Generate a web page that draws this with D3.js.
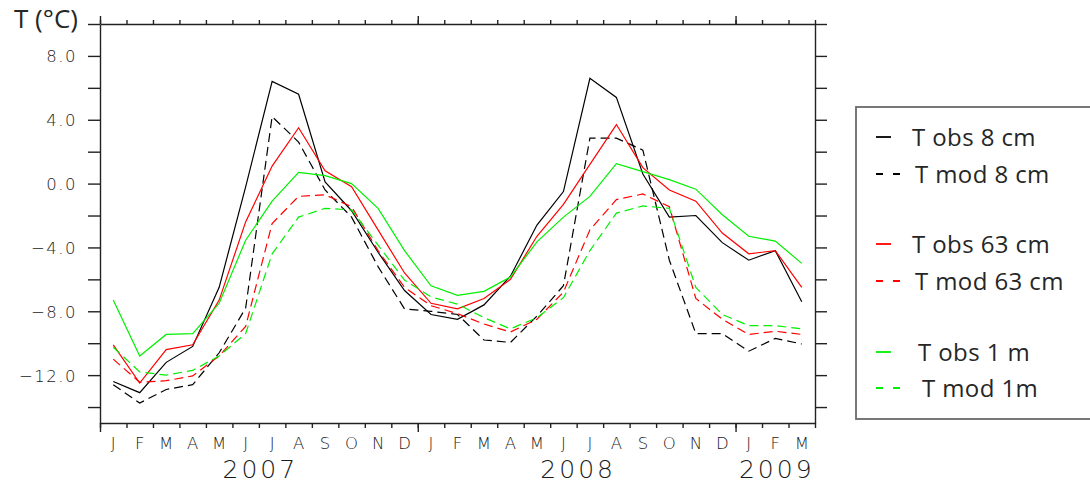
<!DOCTYPE html>
<html><head><meta charset="utf-8">
<script src="https://cdn.jsdelivr.net/npm/d3@7/dist/d3.min.js"></script>
<style>
html,body{margin:0;padding:0;background:#fff;}
svg{display:block;}
.gr text{font-family:"DejaVu Sans",sans-serif;font-weight:200;fill:#1a1a1a;}
</style></head>
<body>
<svg id="chart" width="1090" height="482"></svg>
<script>
// ---------- data ----------
const monthLabels = ["J","F","M","A","M","J","J","A","S","O","N","D",
                     "J","F","M","A","M","J","J","A","S","O","N","D",
                     "J","F","M"];
const yearLabels = ["2007","2008","2009"];
const yearStartMonth = [0,12,24];
const yearEndMonth = [12,24,27];
const yTicks = [-14,-12,-10,-8,-6,-4,-2,0,2,4,6,8,10];
const yLabelled = [-12,-8,-4,0,4,8];

const obs8  = [-12.4,-13.1,-11.2,-10.2,-6.5,-0.2,6.4,5.6,0.1,-1.7,-4.3,-6.7,-8.2,-8.5,-7.6,-5.8,-2.6,-0.5,6.6,5.4,0.6,-2.1,-2.0,-3.7,-4.8,-4.2,-7.4];
const mod8  = [-12.6,-13.75,-12.9,-12.6,-10.6,-7.8,4.2,2.6,-0.4,-2.1,-5.2,-7.85,-8.0,-8.2,-9.8,-9.95,-8.3,-6.4,2.85,2.85,2.1,-4.8,-9.4,-9.4,-10.5,-9.7,-10.05];
const obs63 = [-10.1,-12.5,-10.4,-10.1,-7.3,-2.4,1.1,3.5,0.8,-0.2,-2.9,-5.6,-7.5,-7.85,-7.2,-6.0,-3.3,-1.3,1.2,3.7,1.0,-0.4,-1.1,-3.1,-4.4,-4.2,-6.5];
const mod63 = [-11.0,-12.45,-12.35,-12.05,-10.8,-8.95,-2.5,-0.8,-0.7,-1.45,-4.2,-6.5,-7.65,-8.15,-8.8,-9.3,-8.5,-6.8,-2.9,-1.0,-0.65,-1.45,-7.2,-8.5,-9.45,-9.25,-9.45];
const obs1m = [-7.3,-10.8,-9.45,-9.4,-7.5,-3.55,-1.1,0.7,0.5,0.0,-1.55,-4.2,-6.4,-7.0,-6.75,-5.85,-3.65,-2.1,-0.8,1.25,0.75,0.25,-0.35,-1.95,-3.3,-3.6,-5.0];
const mod1m = [-10.25,-11.8,-12.0,-11.7,-10.8,-9.4,-4.4,-2.1,-1.55,-1.65,-3.85,-6.05,-7.1,-7.55,-8.4,-9.1,-8.4,-7.15,-4.2,-1.85,-1.4,-1.55,-6.5,-8.2,-8.9,-8.9,-9.1];

const seriesNames = ["T obs 8 cm","T mod 8 cm","T obs 63 cm","T mod 63 cm","T obs 1 m","T mod 1m"];
const seriesValues = [obs8, mod8, obs63, mod63, obs1m, mod1m];
const seriesColors = ["#000000","#000000","#ff0000","#ff0000","#00f000","#00f000"];
const seriesDashed = [false,true,false,true,false,true];

// ---------- layout ----------
const L = 100, R = 815, T = 24, B = 423;
const svg = d3.select("#chart");
const x = d3.scaleLinear().domain([0, monthLabels.length]).range([L, R]);
const y = d3.scaleLinear().domain([-15, 10]).range([B, T]);

const axisCol = "#222";
function styleAxis(g){
  g.selectAll("path.domain").attr("stroke", axisCol).attr("stroke-width", 1.4);
  g.selectAll(".tick line").attr("stroke", axisCol).attr("stroke-width", 1.4);
}

const monthBounds = d3.range(0, monthLabels.length + 1);
// Left axis
const gl = svg.append("g").attr("class","gr").attr("transform",`translate(${L},0)`)
  .call(d3.axisLeft(y).tickValues(yTicks).tickSize(12).tickSizeOuter(0).tickPadding(11)
    .tickFormat(d => yLabelled.includes(d) ? (d < 0 ? "\u2212" + d3.format(".1f")(-d) : d3.format(".1f")(d)) : ""));
styleAxis(gl);
gl.selectAll(".tick text").attr("font-size", 16.5).attr("letter-spacing", "1.5px").attr("dy","0.36em");

// Right axis
const gr = svg.append("g").attr("transform",`translate(${R},0)`)
  .call(d3.axisRight(y).tickValues(yTicks).tickSize(12).tickSizeOuter(0).tickFormat(""));
styleAxis(gr);

// Top axis: month ticks and year ticks
const gt = svg.append("g").attr("transform",`translate(0,${T})`)
  .call(d3.axisTop(x).tickValues(monthBounds).tickSize(4).tickSizeOuter(0).tickFormat(""));
styleAxis(gt);
const gty = svg.append("g").attr("transform",`translate(0,${T})`)
  .call(d3.axisTop(x).tickValues(yearStartMonth).tickSize(8).tickSizeOuter(0).tickFormat(""));
styleAxis(gty); gty.select("path.domain").remove();

// Bottom axis
const gb = svg.append("g").attr("class","gr").attr("transform",`translate(0,${B})`)
  .call(d3.axisBottom(x).tickValues(monthBounds).tickSize(5).tickSizeOuter(0).tickFormat(""));
styleAxis(gb);
const gby = svg.append("g").attr("transform",`translate(0,${B})`)
  .call(d3.axisBottom(x).tickValues(yearStartMonth).tickSize(9).tickSizeOuter(0).tickFormat(""));
styleAxis(gby); gby.select("path.domain").remove();

// Month labels
const gm = svg.append("g").attr("class","gr");
gm.selectAll("text").data(monthLabels).join("text")
  .attr("x", (d,i) => x(i + 0.5))
  .attr("y", 449)
  .attr("text-anchor","middle")
  .attr("font-size", 16.5)
  .text(d => d);
// Year labels
gm.selectAll("text.yr").data(yearLabels).join("text").attr("class","yr")
  .attr("x", (d,i) => x((yearStartMonth[i] + yearEndMonth[i]) / 2) + 1.5)
  .attr("y", 477.5)
  .attr("text-anchor","middle")
  .attr("font-size", 25)
  .attr("letter-spacing","3px")
  .text(d => d);

// Title
svg.append("text").attr("x", 14).attr("y", 28)
  .attr("font-family","'Open Sans','Noto Sans',sans-serif").attr("font-size", 26)
  .attr("fill","#262626").text("T (\u00B0C)");

// Lines
const line = d3.line().x((d,i) => x(i + 0.5)).y(d => y(d));
const gLines = svg.append("g");
seriesValues.forEach((vals, k) => {
  gLines.append("path").datum(vals)
    .attr("d", line)
    .attr("fill","none")
    .attr("stroke", seriesColors[k])
    .attr("stroke-width", 1.2)
    .attr("stroke-dasharray", seriesDashed[k] ? "9,5" : null);
});

// Legend
const leg = svg.append("g");
leg.append("rect").attr("x", 856).attr("y", 107).attr("width", 240).attr("height", 312)
  .attr("fill","#fff").attr("stroke","#6a6a6a").attr("stroke-width", 1.8);
const legY = [137, 174, 244, 281, 352, 388];
const legTextX = [912, 915, 912, 915, 918, 922];
seriesNames.forEach((name, k) => {
  if (seriesDashed[k]) {
    leg.append("line").attr("x1", 876).attr("x2", 901).attr("y1", legY[k]).attr("y2", legY[k])
      .attr("stroke", seriesColors[k]).attr("stroke-width", 2.2).attr("stroke-dasharray","7,10");
  } else {
    leg.append("line").attr("x1", 876).attr("x2", 891).attr("y1", legY[k]).attr("y2", legY[k])
      .attr("stroke", seriesColors[k]).attr("stroke-width", 1.8);
  }
  leg.append("text").attr("x", legTextX[k]).attr("y", legY[k] + 8.5)
    .attr("font-family","'Open Sans','Noto Sans',sans-serif").attr("font-size", 24)
    .attr("letter-spacing","0.4px")
    .attr("fill","#262626").text(name);
});
</script>
</body></html>
